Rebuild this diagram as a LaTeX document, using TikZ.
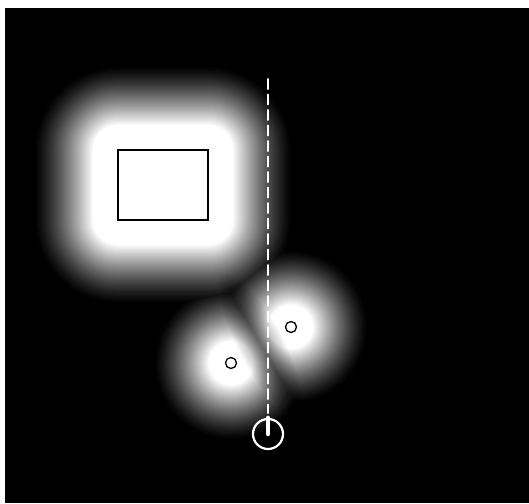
\documentclass[tikz,border=0pt]{standalone}
\begin{document}
\begin{tikzpicture}[x=1pt,y=-1pt,
  obst/.style={circle, draw=black, line width=1.3pt, minimum size=11pt, inner sep=0pt},
  boxobst/.style={draw=black, line width=2pt, minimum width=90pt, minimum height=70pt, inner sep=0pt},
  robotbody/.style={circle, draw=white, line width=2.2pt, minimum size=30pt, inner sep=0pt},
  pathline/.style={white, line width=2pt, dash pattern=on 10pt off 5.5pt, line cap=round},
  heading/.style={white, line width=4.5pt, line cap=round}]
\useasboundingbox (0,0) rectangle (529,503);
\fill[white] (0,0) rectangle (529,503);
\fill[black] (5,8) rectangle (529,503);
\begin{scope}
  \clip (5,8) rectangle (529,503);
  % field: max of the glows, drawn level by level
  \foreach \k in {1,...,60}{
    \pgfmathsetmacro\lv{\k*100/60}
    \pgfmathsetmacro\tt{(\lv/100)^(1/1.3)}
    \pgfmathsetmacro\dd{85-60*\tt}
    \pgfmathsetmacro\rr{78-56*\tt}
    \fill[white!\lv!black, rounded corners=\dd pt] (118-\dd,150-\dd) rectangle (208+\dd,220+\dd);
    \fill[white!\lv!black] (231,363) circle[radius=\rr pt];
    \fill[white!\lv!black] (291,327) circle[radius=\rr pt];
  }
  % darker seam between the two small obstacles
  \begin{scope}[shift={(261,345)}, rotate=-62]
    \foreach \i in {1,...,12}{
      \fill[black, opacity=0.04] (0,0) ellipse [x radius={84pt-4pt*\i}, y radius={24pt-1.8pt*\i}];
    }
  \end{scope}
\end{scope}
% obstacles
\node[boxobst] (box) at (163,185) {};
\node[obst] (o1) at (231,363) {};
\node[obst] (o2) at (291,327) {};
% robot and its path
\node[robotbody] (robot) at (268,434) {};
\coordinate (goal) at (268,79);
\coordinate (pathend) at (268,413);
\draw[pathline] (goal) -- (pathend);
\draw[heading] (robot.center) -- (robot.north);
\end{tikzpicture}
\end{document}
